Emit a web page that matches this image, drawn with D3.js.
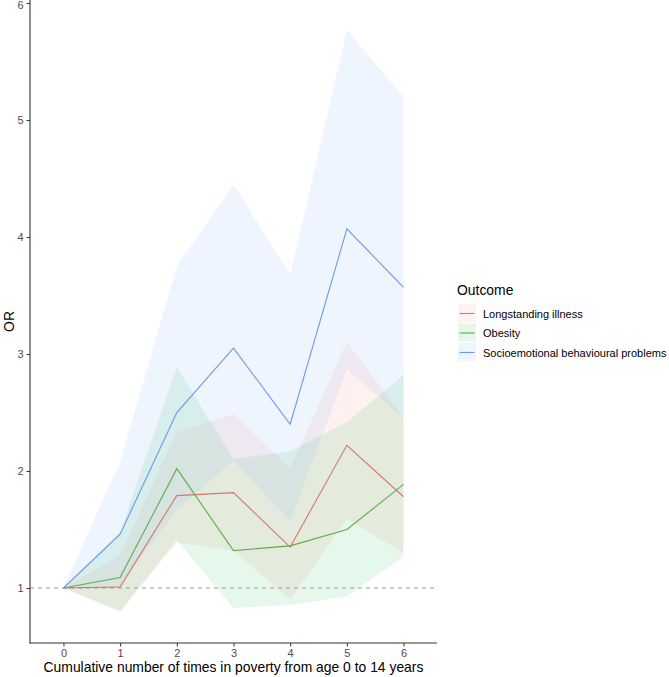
<!DOCTYPE html>
<html>
<head>
<meta charset="utf-8">
<script src="https://cdn.jsdelivr.net/npm/d3@7"></script>
<style>
  html, body { margin: 0; padding: 0; background: #fff; }
  svg { display: block; font-family: "Liberation Sans", Arial, Helvetica, sans-serif; }
</style>
</head>
<body>
<script>
// ---- data ----
const categories = [0, 1, 2, 3, 4, 5, 6];
const xTicks = [0, 1, 2, 3, 4, 5, 6];
const yTicks = [1, 2, 3, 4, 5, 6];
const seriesNames = ["Longstanding illness", "Obesity", "Socioemotional behavioural problems"];

const illness   = [1, 1.01, 1.79, 1.815, 1.35, 2.22, 1.78];
const illnessLo = [1, 0.80, 1.39, 1.32, 0.90, 1.59, 1.30];
const illnessHi = [1, 1.28, 2.33, 2.49, 2.02, 3.10, 2.45];

const obesity   = [1, 1.09, 2.02, 1.32, 1.36, 1.50, 1.886];
const obesityLo = [1, 0.80, 1.41, 0.83, 0.855, 0.93, 1.27];
const obesityHi = [1, 1.48, 2.89, 2.10, 2.17, 2.42, 2.82];

const socio   = [1, 1.46, 2.50, 3.05, 2.40, 4.07, 3.57];
const socioLo = [1, 1.03, 1.67, 2.09, 1.57, 2.87, 2.45];
const socioHi = [1, 2.08, 3.75, 4.45, 3.68, 5.77, 5.20];

const refLine = 1;
const fillColors = ["#F8766D", "#00BA38", "#619CFF"];
const lineColors = ["#D4786C", "#5FAD47", "#6E97EA"];

// ---- build series table ----
const series = [
  { name: seriesNames[0], est: illness, lo: illnessLo, hi: illnessHi, fill: fillColors[0], color: lineColors[0] },
  { name: seriesNames[1], est: obesity, lo: obesityLo, hi: obesityHi, fill: fillColors[1], color: lineColors[1] },
  { name: seriesNames[2], est: socio,   lo: socioLo,   hi: socioHi,   fill: fillColors[2], color: lineColors[2] }
].map(s => ({ ...s, pts: categories.map((c, i) => ({ x: c, y: s.est[i], lo: s.lo[i], hi: s.hi[i] })) }));

const W = 669, H = 677;
const svg = d3.select("body").append("svg").attr("width", W).attr("height", H);

const panel = { left: 30, right: 437, top: 0, bottom: 643 };
const x = d3.scaleLinear().domain([-0.59, 6.59]).range([panel.left, panel.right]);
const y = d3.scaleLinear().domain([0.53, 6.026]).range([panel.bottom, panel.top]);

// ribbons
const area = d3.area().x(d => x(d.x)).y0(d => y(d.lo)).y1(d => y(d.hi));
svg.append("g").selectAll("path").data(series).join("path")
  .attr("d", s => area(s.pts))
  .attr("fill", s => s.fill)
  .attr("fill-opacity", 0.1);

// reference line
svg.append("line")
  .attr("x1", panel.left).attr("x2", panel.right)
  .attr("y1", y(refLine)).attr("y2", y(refLine))
  .attr("stroke", "#9a9a9a").attr("stroke-width", 1)
  .attr("stroke-dasharray", "4,4");

// lines
const line = d3.line().x(d => x(d.x)).y(d => y(d.y));
svg.append("g").selectAll("path").data(series).join("path")
  .attr("d", s => line(s.pts))
  .attr("fill", "none")
  .attr("stroke", s => s.color)
  .attr("stroke-width", 1.1);

// axes
const xAxis = svg.append("g").attr("transform", `translate(0,${panel.bottom})`)
  .call(d3.axisBottom(x).tickValues(xTicks).tickSize(3.5).tickPadding(3).tickFormat(d3.format("d")));
const yAxis = svg.append("g").attr("transform", `translate(${panel.left},0)`)
  .call(d3.axisLeft(y).tickValues(yTicks).tickSize(3.5).tickPadding(3).tickFormat(d3.format("d")));

[xAxis, yAxis].forEach(g => {
  g.select(".domain").remove();
  g.selectAll(".tick line").attr("stroke", "#333").attr("stroke-width", 1);
  g.selectAll(".tick text").attr("fill", "#4d4d4d").style("font-size", "11px")
    .style("font-family", "'Liberation Sans', Arial, sans-serif");
});
// keep the top tick label inside the picture
yAxis.selectAll(".tick text").filter(d => d === 6).attr("dy", "0.32em").attr("y", 1.5);

// axis lines
svg.append("line").attr("x1", panel.left).attr("x2", panel.left)
  .attr("y1", panel.top).attr("y2", panel.bottom + 0.5)
  .attr("stroke", "#333").attr("stroke-width", 1.1);
svg.append("line").attr("x1", panel.left - 0.5).attr("x2", panel.right)
  .attr("y1", panel.bottom).attr("y2", panel.bottom)
  .attr("stroke", "#333").attr("stroke-width", 1.1);

// axis titles
svg.append("text")
  .attr("x", (panel.left + panel.right) / 2).attr("y", 672)
  .attr("text-anchor", "middle").attr("fill", "#000")
  .style("font-size", "13.9px")
  .text("Cumulative number of times in poverty from age 0 to 14 years");

svg.append("text")
  .attr("transform", `translate(13.5,${(panel.top + panel.bottom) / 2}) rotate(-90)`)
  .attr("text-anchor", "middle").attr("fill", "#000")
  .style("font-size", "13.9px")
  .text("OR");

// legend
const lg = svg.append("g").attr("transform", "translate(457,0)");
lg.append("text").attr("x", 0).attr("y", 294.5)
  .attr("fill", "#000").style("font-size", "13.9px").text("Outcome");
const rows = lg.selectAll("g.row").data(series).join("g")
  .attr("class", "row")
  .attr("transform", (d, i) => `translate(0,${304 + i * 19.5})`);
rows.append("rect").attr("x", 1).attr("y", 0).attr("width", 18).attr("height", 18)
  .attr("fill", d => d.fill).attr("fill-opacity", 0.1);
rows.append("line").attr("x1", 2.5).attr("x2", 17.5).attr("y1", 9.5).attr("y2", 9.5)
  .attr("stroke", d => d.color).attr("stroke-width", 1.1);
rows.append("text").attr("x", 26).attr("y", 13.5)
  .attr("fill", "#000").style("font-size", "11px").text(d => d.name);
</script>
</body>
</html>
